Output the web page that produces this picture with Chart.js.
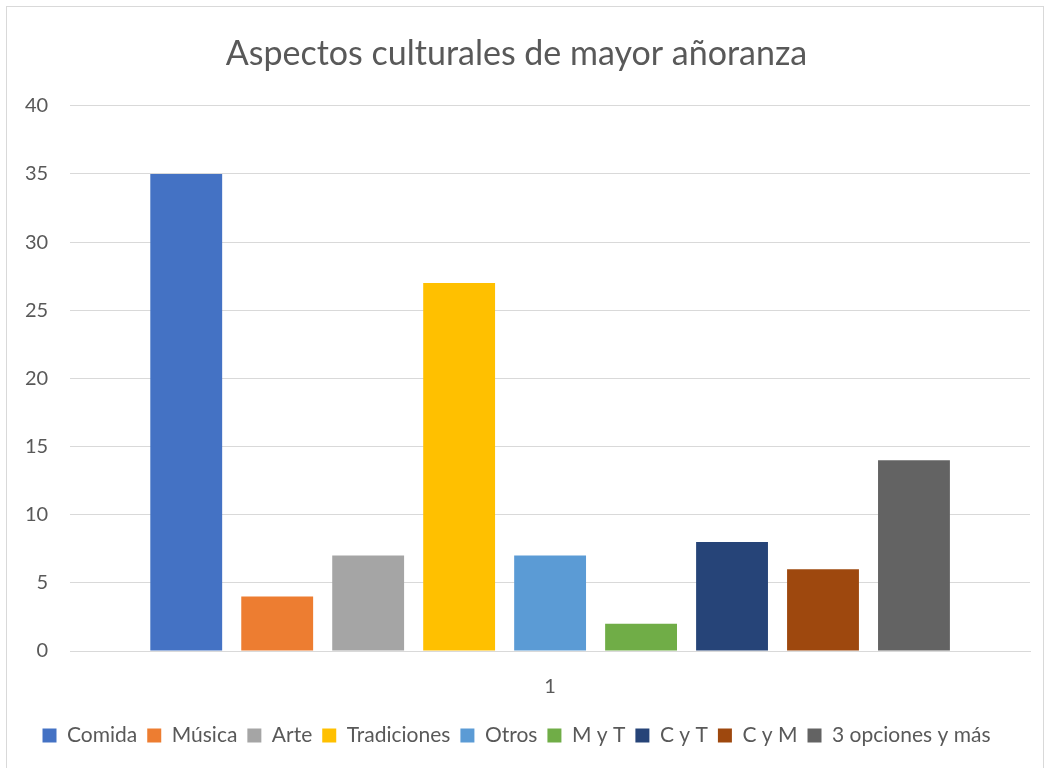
<!DOCTYPE html>
<html>
<head>
<meta charset="utf-8">
<script src="https://cdn.jsdelivr.net/npm/chart.js@4"></script>
<style>
    html, body { margin: 0; padding: 0; background: #fff; }
    #wrap { position: relative; width: 1049px; height: 768px; }
    #frame { position: absolute; left: 6px; top: 6px; width: 1036px; height: 770px; border: 1px solid #d9d9d9; }
    canvas { position: absolute; left: 0; top: 0; }
</style>
</head>
<body>
<div id="wrap">
    <div id="frame"></div>
    <canvas id="chart" width="1049" height="768"></canvas>
</div>
<script>
'use strict';

const categories = ['1'];
const seriesNames = ['Comida', 'Música', 'Arte', 'Tradiciones', 'Otros', 'M y T', 'C y T', 'C y M', '3 opciones y más'];
const seriesValues = [35, 4, 7, 27, 7, 2, 8, 6, 14];
const seriesColors = ['#4472C4', '#ED7D31', '#A5A5A5', '#FFC000', '#5B9BD5', '#70AD47', '#264478', '#9E480E', '#636363'];
const yTicks = [0, 5, 10, 15, 20, 25, 30, 35, 40];

const fontFamily = 'Lato, "Open Sans", sans-serif';

const ctx = document.getElementById('chart').getContext('2d');
new Chart(ctx, {
    type: 'bar',
    data: {
        labels: categories,
        datasets: seriesNames.map((name, i) => ({
            label: name,
            data: [seriesValues[i]],
            backgroundColor: seriesColors[i],
            borderWidth: 0
        }))
    },
    options: {
        responsive: false,
        animation: false,
        datasets: {
            bar: { categoryPercentage: 0.853, barPercentage: 0.79 }
        },
        layout: {
            padding: { left: 3, right: 19, top: 34, bottom: 12 }
        },
        plugins: {
            title: {
                display: true,
                text: 'Aspectos culturales de mayor añoranza',
                color: '#595959',
                font: { family: fontFamily, size: 34, weight: 'normal' },
                padding: { top: 0, bottom: 31 }
            },
            legend: {
                position: 'bottom',
                labels: {
                    color: '#595959',
                    font: { family: fontFamily, size: 21 },
                    boxWidth: 14,
                    boxHeight: 14,
                    padding: 10
                }
            },
            tooltip: { enabled: false }
        },
        scales: {
            x: {
                grid: { display: false },
                border: { color: '#d9d9d9' },
                ticks: {
                    color: '#595959',
                    font: { family: fontFamily, size: 20 },
                    padding: 16
                }
            },
            y: {
                min: 0,
                max: 40,
                afterBuildTicks: (axis) => {
                    axis.ticks = yTicks.map(v => ({ value: v }));
                },
                grid: { color: '#d9d9d9', lineWidth: 1, drawTicks: false },
                border: { display: false },
                ticks: {
                    color: '#595959',
                    font: { family: fontFamily, size: 20 },
                    padding: 22
                }
            }
        }
    }
});
</script>
</body>
</html>
